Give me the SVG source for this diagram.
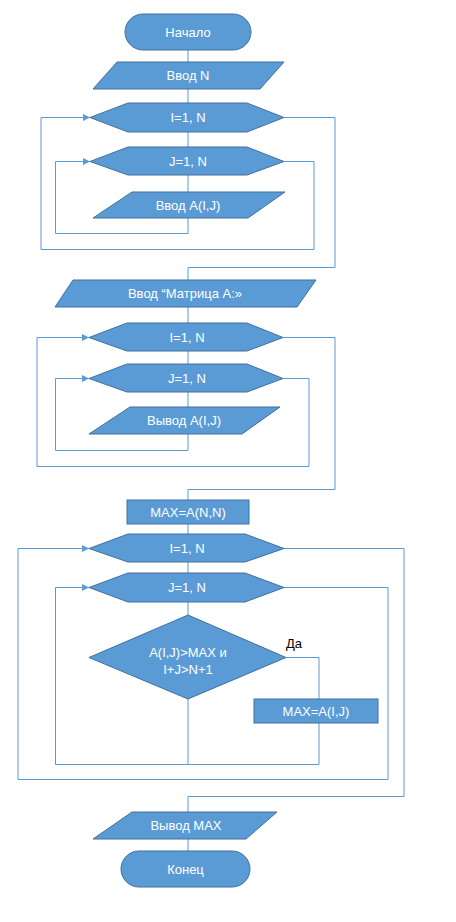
<svg xmlns="http://www.w3.org/2000/svg" width="456" height="922" viewBox="0 0 456 922">
<style>
.s{fill:#5B9BD5;stroke:#41719C;stroke-width:1}
.t{fill:#FFFFFF;font-family:"Liberation Sans",Arial,sans-serif;font-size:13px;text-anchor:middle}
.c{fill:none;stroke:#5B9BD5;stroke-width:1}
.l{fill:#000000;font-family:"Liberation Sans",Arial,sans-serif;font-size:13px}
</style>
<defs>
<marker id="ah" markerUnits="userSpaceOnUse" markerWidth="8" markerHeight="8" refX="7" refY="3.5" orient="auto">
<path d="M0,0 L7,3.5 L0,7 z" fill="#5B9BD5"/>
</marker>
</defs>
<rect width="456" height="922" fill="#FFFFFF"/>
<g id="connectors">
<path class="c" d="M188,50 V62 M188,89 V103 M188,132 V147 M188,175 V192"/>
<path class="c" d="M188,218 V233.5 H55.5 V161.5 H90" marker-end="url(#ah)"/>
<path class="c" d="M284,161.5 H314 V249.5 H41 V117.5 H90" marker-end="url(#ah)"/>
<path class="c" d="M284,117.5 H335 V267.5 H188 V280"/>
<path class="c" d="M188,307 V323 M188,351 V364 M188,392 V407"/>
<path class="c" d="M188,434 V450.5 H55.5 V378.5 H89" marker-end="url(#ah)"/>
<path class="c" d="M283,378.5 H309 V466.5 H37 V337.5 H89" marker-end="url(#ah)"/>
<path class="c" d="M283,337.5 H335 V489.5 H188 V500"/>
<path class="c" d="M188,524 V534 M188,562 V573 M188,602 V615"/>
<path class="c" d="M286,657.5 H319 V699"/>
<path class="c" d="M188,699 V764.5"/>
<path class="c" d="M319,723 V764.5 H55.5 V587.5 H89" marker-end="url(#ah)"/>
<path class="c" d="M284,587.5 H388 V779.5 H18 V548.5 H89" marker-end="url(#ah)"/>
<path class="c" d="M284,548.5 H404 V796.5 H188 V812"/>
<path class="c" d="M188,839 V851"/>
</g>
<g id="start"><rect class="s" x="125" y="14" width="126" height="36" rx="18"/><text class="t" x="188" y="36.5">Начало</text></g>
<g id="inputN"><polygon class="s" points="117,62 284,62 260,89 93,89"/><text class="t" x="188" y="80">Ввод N</text></g>
<g id="loopI1"><polygon class="s" points="90,117.5 128,103 247,103 284,117.5 247,132 128,132"/><text class="t" x="188" y="122">I=1, N</text></g>
<g id="loopJ1"><polygon class="s" points="90,161.5 128,147 247,147 284,161.5 247,175 128,175"/><text class="t" x="188" y="166">J=1, N</text></g>
<g id="inputA"><polygon class="s" points="132,192 285,192 248,218 93,218"/><text class="t" x="188" y="209.5">Ввод A(I,J)</text></g>
<g id="inputMatrix"><polygon class="s" points="73,280 316,280 297,307 55,307"/><text class="t" x="185" y="298">Ввод “Матрица А:»</text></g>
<g id="loopI2"><polygon class="s" points="89,337.5 127,323 247,323 283,337.5 247,351 127,351"/><text class="t" x="187" y="342">I=1, N</text></g>
<g id="loopJ2"><polygon class="s" points="89,378.5 127,364 247,364 283,378.5 247,392 127,392"/><text class="t" x="187" y="383">J=1, N</text></g>
<g id="outputA"><polygon class="s" points="130,407 280,407 242,434 89,434"/><text class="t" x="184" y="425">Вывод A(I,J)</text></g>
<g id="maxInit"><rect class="s" x="127" y="500" width="122" height="24"/><text class="t" x="188" y="516.5">MAX=A(N,N)</text></g>
<g id="loopI3"><polygon class="s" points="89,548.5 128,534 245,534 284,548.5 245,562 128,562"/><text class="t" x="187" y="553">I=1, N</text></g>
<g id="loopJ3"><polygon class="s" points="89,587.5 128,573 245,573 284,587.5 245,602 128,602"/><text class="t" x="187" y="592">J=1, N</text></g>
<g id="cond"><polygon class="s" points="188,615 286,657.5 188,699 89,657.5"/><text class="t" x="188" y="657">A(I,J)&gt;MAX и</text><text class="t" x="188" y="674">I+J&gt;N+1</text></g>
<text class="l" x="286" y="648">Да</text>
<g id="maxSet"><rect class="s" x="254" y="699" width="124" height="24"/><text class="t" x="316" y="715.5">MAX=A(I,J)</text></g>
<g id="outputMax"><polygon class="s" points="132,812 277,812 246,839 93,839"/><text class="t" x="186" y="830">Вывод MAX</text></g>
<g id="end"><rect class="s" x="121" y="851" width="129" height="36" rx="18"/><text class="t" x="185.5" y="873.5">Конец</text></g>
</svg>
